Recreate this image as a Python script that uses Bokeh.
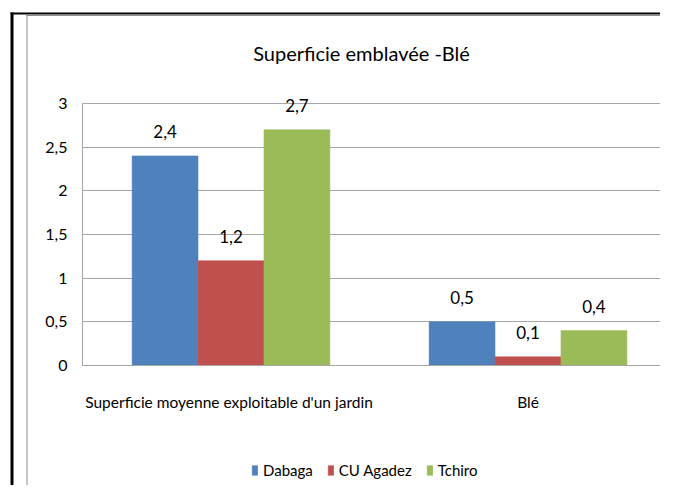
from bokeh.plotting import figure
from bokeh.models import (ColumnDataSource, Range1d, FixedTicker, LabelSet, Label,
                          Legend, LegendItem, BoxAnnotation)
from bokeh.core.properties import value
from bokeh.transform import dodge
from bokeh.embed import file_html
from bokeh.resources import INLINE

# ---------------- data ----------------
categories = ["Superficie moyenne exploitable  d'un jardin", "Blé"]
series_names = ["Dabaga", "CU Agadez", "Tchiro"]
dabaga = [2.4, 0.5]
cu_agadez = [1.2, 0.1]
tchiro = [2.7, 0.4]
y_ticks = [0, 0.5, 1, 1.5, 2, 2.5, 3]
y_tick_labels = ["0", "0,5", "1", "1,5", "2", "2,5", "3"]
title_text = "Superficie emblavée -Blé"
colors = ["#4F81BD", "#C0504D", "#9BBB59"]

FONT = "Lato"
GRID = "#a6a6a6"

# ---------------- layout constants (pixels) ----------------
W, H = 660, 485
X0_PX, CAT_PX = 82, 297          # left edge of plot area, width of one category
Y0_PX, Y3_PX = 365, 103          # pixel rows of value 0 and value 3
px_per_unit = (Y0_PX - Y3_PX) / 3.0
x_start, x_end = -X0_PX / CAT_PX, (W - X0_PX) / CAT_PX
y_start, y_end = -(H - Y0_PX) / px_per_unit, 3 + Y3_PX / px_per_unit
LEGEND_LEFT, LEGEND_BOTTOM = 251, 479
TITLE_X, TITLE_BASELINE = 361, 52

# category centres on the x scale
x_centers = [i + 0.5 for i in range(len(categories))]


def fmt(v):
    return f"{v:g}".replace(".", ",")


source = ColumnDataSource(dict(
    x=x_centers,
    s0=dabaga, s1=cu_agadez, s2=tchiro,
    l0=[fmt(v) for v in dabaga],
    l1=[fmt(v) for v in cu_agadez],
    l2=[fmt(v) for v in tchiro],
))

p = figure(width=W, height=H, title=None,
           x_range=Range1d(x_start, x_end), y_range=Range1d(y_start, y_end),
           output_backend="svg", toolbar_location=None,
           min_border_left=0, min_border_right=0,
           min_border_top=0, min_border_bottom=0)
p.outline_line_color = None
p.background_fill_color = "white"
p.border_fill_color = "white"

# axes (drawn at fixed data locations inside the frame)
p.yaxis.fixed_location = 0
p.yaxis.ticker = FixedTicker(ticks=y_ticks)
p.yaxis.bounds = (y_ticks[0], y_ticks[-1])
p.yaxis.major_label_overrides = dict(zip(y_ticks, y_tick_labels))
p.yaxis.major_tick_line_color = None
p.yaxis.minor_tick_line_color = None
p.yaxis.major_tick_out = 0
p.yaxis.major_tick_in = 0
p.yaxis.major_label_standoff = 15
p.yaxis.axis_line_color = GRID
p.yaxis.major_label_text_font = FONT
p.yaxis.major_label_text_font_size = "16px"
p.yaxis.major_label_text_color = "black"

p.xaxis.fixed_location = 0
p.xaxis.ticker = FixedTicker(ticks=x_centers)
p.xaxis.bounds = (0, x_end)
p.xaxis.major_label_overrides = dict(zip(x_centers, categories))
p.xaxis.major_tick_line_color = None
p.xaxis.minor_tick_line_color = None
p.xaxis.major_tick_out = 0
p.xaxis.major_tick_in = 0
p.xaxis.major_label_standoff = 27
p.xaxis.axis_line_color = GRID
p.xaxis.major_label_text_font = FONT
p.xaxis.major_label_text_font_size = "15.5px"
p.xaxis.major_label_text_color = "black"

p.xgrid.grid_line_color = None
p.ygrid.ticker = FixedTicker(ticks=y_ticks)
p.ygrid.bounds = (y_ticks[0], y_ticks[-1])
p.ygrid.cross_bounds = (0, x_end)
p.ygrid.grid_line_color = GRID

# bars
width = 0.222
offsets = [-width, 0.0, width]
renderers = []
for i, (name, col) in enumerate(zip(series_names, colors)):
    r = p.vbar(x=dodge("x", offsets[i]), top=f"s{i}",
               width=width, source=source, fill_color=col,
               line_color=col, line_width=0.5)
    renderers.append(r)
    labels = LabelSet(x=dodge("x", offsets[i]), y=f"s{i}",
                      text=f"l{i}", source=source, text_align="center",
                      text_baseline="alphabetic", y_offset=18,
                      text_font=value(FONT), text_font_size=value("17px"),
                      text_color="black")
    p.add_layout(labels)

# title
p.add_layout(Label(x=TITLE_X, y=H - TITLE_BASELINE, x_units="screen", y_units="screen",
                   text=title_text, text_align="center", text_baseline="alphabetic",
                   text_font=FONT, text_font_size="20px", text_color="black"))

# legend
legend = Legend(items=[LegendItem(label=n, renderers=[r]) for n, r in zip(series_names, renderers)],
                orientation="horizontal",
                location=(LEGEND_LEFT, H - LEGEND_BOTTOM),
                glyph_width=7, glyph_height=12, label_standoff=5, spacing=14,
                padding=0, margin=0, border_line_color=None, background_fill_alpha=0,
                label_text_font=FONT, label_text_font_size="15px", label_text_color="black",
                label_height=12)
p.add_layout(legend)

# chart-area frame (black outer edge, grey inner edge), in screen pixels
for l, r_, t, b, c in [(10, 13, H - 12, 0, "black"), (10, W, H - 12, H - 14, "black"),
                       (26, 27, H - 14, 0, "#8c8c8c"), (26, W, H - 14, H - 15.5, "#8c8c8c")]:
    p.add_layout(BoxAnnotation(left=l, right=r_, top=t, bottom=b,
                               left_units="screen", right_units="screen",
                               top_units="screen", bottom_units="screen",
                               fill_color=c, fill_alpha=1, line_color=None))

open("out.html", "w").write(file_html(p, INLINE))
